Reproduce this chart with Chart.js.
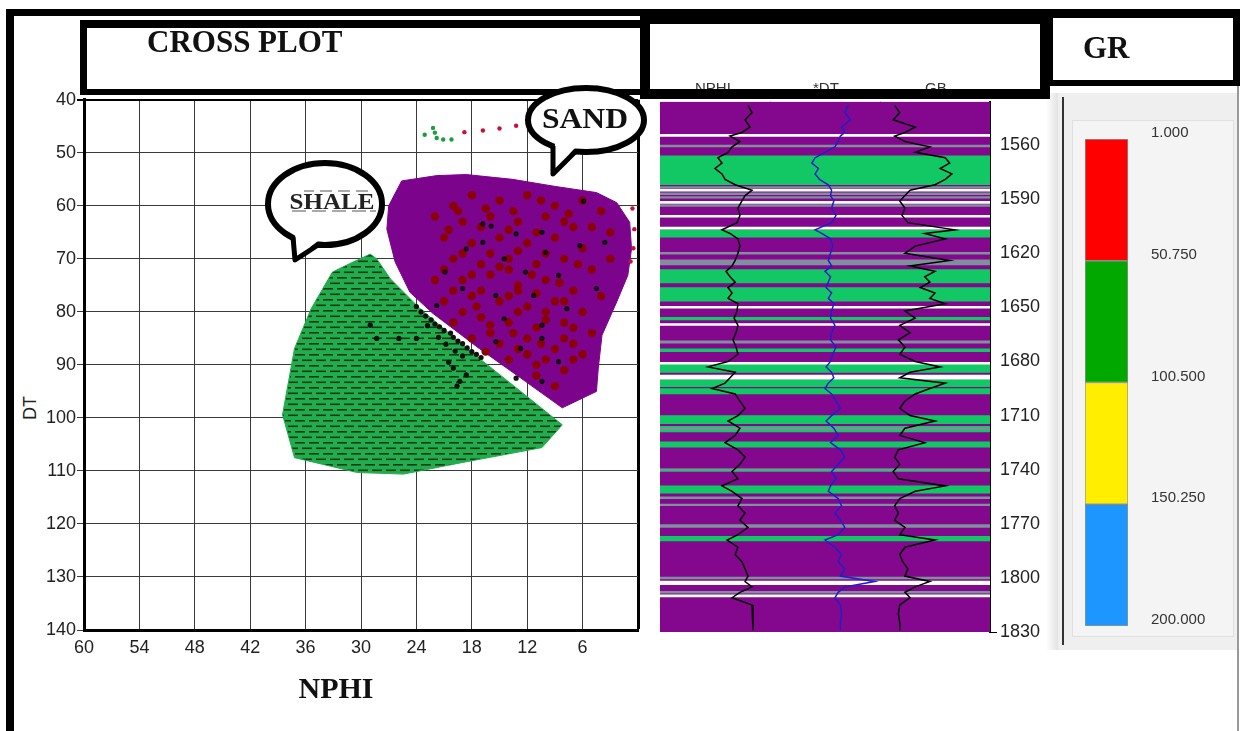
<!DOCTYPE html>
<html>
<head>
<meta charset="utf-8">
<title>Cross plot</title>
<script src="https://cdn.jsdelivr.net/npm/chart.js@4.4.0/dist/chart.umd.min.js"></script>
<style>
  body { margin: 0; width: 1242px; height: 731px; background: #fff; position: relative; overflow: hidden; font-family: "Liberation Sans", Arial, sans-serif; }
  canvas { position: absolute; z-index: 1; }
  .line { position: absolute; background: #000; z-index: 3; }
  .box { position: absolute; box-sizing: border-box; border: solid #000; z-index: 3; }
  .serif { position: absolute; font-family: "Liberation Serif", "Times New Roman", serif; font-weight: bold; color: #111; white-space: nowrap; z-index: 3; }
  .hdr { position: absolute; font-size: 15px; line-height: 15px; color: #333; z-index: 2; }
  #notes { position: absolute; left: 0; top: 0; z-index: 5; }
</style>
</head>
<body>

<div class="line" style="left:6px;top:9px;width:1234px;height:7px"></div>
<div class="line" style="left:6px;top:9px;width:8px;height:722px"></div>
<div class="line" style="left:1237px;top:84px;width:2px;height:647px;background:#9a9a9a"></div>

<div class="box" style="left:80px;top:20px;width:568px;height:75px;border-width:8px 7px 6px 7px"></div>
<div class="serif" style="left:147px;top:26px;font-size:31px;line-height:31px">CROSS PLOT</div>

<div class="box" style="left:640px;top:12px;width:410px;height:87px;border-width:12px 10px 10px 10px"></div>
<div class="hdr" style="left:695px;top:80px">NPHI</div>
<div class="hdr" style="left:813px;top:80px">*DT</div>
<div class="hdr" style="left:925px;top:80px">GB</div>

<div class="box" style="left:1046px;top:10px;width:194px;height:76px;border-width:8px 7px 6px 7px"></div>
<div class="serif" style="left:1083px;top:32px;font-size:31px;line-height:31px">GR</div>

<!-- right legend panel -->
<div style="position:absolute;left:1046px;top:93px;width:12px;height:557px;background:linear-gradient(to right,#fff,#e2e2e2)"></div>
<div style="position:absolute;left:1058px;top:93px;width:180px;height:557px;background:#efefef"></div>
<div style="position:absolute;left:1062px;top:97px;width:2px;height:548px;background:#333"></div>
<div style="position:absolute;left:1072px;top:120px;width:160px;height:515px;background:#f4f4f4;border:1px solid #e0e0e0"></div>

<div class="serif" style="left:236px;top:673px;width:200px;text-align:center;font-size:30px;line-height:30px">NPHI</div>
<div style="position:absolute;left:10px;top:398px;width:40px;height:20px;line-height:20px;text-align:center;font-size:18px;color:#222;transform:rotate(-90deg)">DT</div>

<canvas id="cross" width="640" height="640" style="left:14px;top:88px"></canvas>
<canvas id="track" width="400" height="567" style="left:650px;top:88px"></canvas>
<canvas id="grbar" width="160" height="551" style="left:1075px;top:107px;z-index:2"></canvas>

<svg id="notes" width="1242" height="731">
  <ellipse cx="325" cy="204" rx="57" ry="41" fill="#fff" stroke="#000" stroke-width="6"/>
  <path d="M295 233 L296 258 L318 241 Z" fill="#fff"/>
  <path d="M293 237 L295 260 L318 245" fill="none" stroke="#000" stroke-width="5" stroke-linejoin="round"/>
  <text x="332" y="209" text-anchor="middle" font-family="Liberation Serif" font-weight="bold" font-size="23" fill="#222" textLength="85" lengthAdjust="spacingAndGlyphs">SHALE</text>
  <path d="M304 191 H314 M320 191 H332 M338 191 H350 M356 191 H368" stroke="#555" stroke-width="1.2"/>
  <path d="M292 211 H306 M312 211 H326 M332 211 H346 M352 211 H366 M370 211 H376" stroke="#555" stroke-width="1.1"/>
  <ellipse cx="586" cy="120" rx="58" ry="32" fill="#fff" stroke="#000" stroke-width="6"/>
  <path d="M555 143 L554 171 L575 148 Z" fill="#fff"/>
  <path d="M553 146 L553 174 L576 151" fill="none" stroke="#000" stroke-width="5" stroke-linejoin="round"/>
  <text x="585" y="128" text-anchor="middle" font-family="Liberation Serif" font-weight="bold" font-size="30" fill="#111" textLength="86" lengthAdjust="spacingAndGlyphs">SAND</text>
</svg>

<script>
// ---- cross plot (NPHI vs DT) ----
const nphiTicks = [60, 54, 48, 42, 36, 30, 24, 18, 12, 6, 0];
const dtTicks = [40, 50, 60, 70, 80, 90, 100, 110, 120, 130, 140];

// zone outlines [NPHI, DT]
const sandZone = [[25.6,55.3],[21.8,54.3],[18.6,54.1],[13.6,55],[9.1,56.3],[4.5,57.5],[2.3,59.4],[0.9,63.1],[0.7,68.1],[1.1,73.1],[2.3,78.1],[3.9,84.4],[4.3,90.6],[4.5,95],[8.2,98.1],[12.2,93.1],[17.2,86.9],[22.2,80.3],[24.7,76.3],[26.3,70.6],[27.2,64.4],[27,60]];
const shaleZone = [[29,69.1],[31.7,71.3],[33.1,72.5],[35.4,79.4],[37.2,86.9],[38.5,99.4],[37.2,107.5],[30.4,110.3],[25.4,110.6],[19,108.4],[10.4,105.6],[8.2,101.3],[12.7,95],[18.1,87.5],[23.6,79.4],[26.8,73.8],[28.3,70]];

const sandPts = [[20,60],[18,58],[15,59],[12,58],[9,60],[6,59],[4,61],[22,62],[19,63],[16,62],[13,63],[10,62],[7,64],[3,65],
  [21,66],[18,67],[15,66],[12,67],[9,66],[6,68],[3,70],[20,70],[17,71],[14,70],[11,71],[8,70],[5,72],[22,74],[19,74],[16,73],
  [13,75],[10,74],[7,76],[4,77],[21,78],[18,77],[15,78],[12,79],[9,78],[6,80],[20,82],[17,81],[14,82],[11,83],[8,82],[5,84],
  [18,85],[15,86],[12,85],[9,87],[6,88],[14,89],[11,90],[8,91],[13,76],[16,69],[10,80],[14,72],[17,64],[11,65],[19,80],[16,84],[12,88],[7,86],
  [19.5,61],[16.5,60.5],[13.5,61],[10.5,59],[7.5,61.5],[5,64],[20.5,64.5],[14,64.5],[8,63],[19,69],[13,68.5],[10,69],[6.5,71],
  [21,72],[18,73],[15,71.5],[11.5,73],[8.5,74.5],[17,76],[14,77],[11,76.5],[8,78],[20,76],[17.5,79],[13,80],[10,81.5],[7,83],
  [16,82.5],[13.5,84],[10.5,86],[8,85],[16.5,87.5],[13,87],[10,89],[7,89],[11,92],[9,94]];
const blackPts = [[16.8,63.4],[15.9,63.8],[13.2,65.3],[10.4,65],[5.9,59.1],[3.6,66.9],[18.6,68.1],[14.5,70],[12.2,72.5],[8.6,73.1],
  [20.9,72.5],[19,75.6],[15.4,76.9],[11.3,76.9],[7.7,79.4],[14.5,81.3],[10.4,82.5],[15.4,85.6],[12.7,86.9],[10.4,85],[8.6,89.4],
  [10.4,93.1],[21.8,78.8],[16.8,66.9],[6.3,67.5],[10,68.8],[4.5,75.6],
  [24,79],[23.5,80],[23,80.8],[22.4,81.5],[22,82.3],[21.5,82.8],[21,83.5],[20.3,84],[20,84.8],[19.5,85.5],[19,86],[18.5,86.8],
  [18,87.5],[17.5,88],[17,88.6],[21.6,84.8],[20.8,86.1],[19.8,87.4],[19,88.3],[22.8,82.6],[24,85],[25.9,85],[28.3,85],[29,82.5],
  [20,90.6],[19.3,93.1],[18.6,91.9],[13.2,92.5],[20.5,89.5],[19.6,94]];
const greenTopPts = [[23.1,46.6],[22.2,45.3],[22,46.2],[21.8,47.2],[21.1,47.5],[20.2,47.5]];
const redTopPts = [[18.8,46.1],[16.8,45.8],[15,45.4],[13.2,44.9],[0.6,60.5],[0.4,64.4],[0.5,68],[0.8,70.5]];

// ---- log tracks ----
const depthTicks = [1560, 1590, 1620, 1650, 1680, 1710, 1740, 1770, 1800, 1830];
const depthTop = 1536, depthBottom = 1830;
const curveDepth = [1538,1542,1546,1550,1553,1555,1558,1561,1564,1567,1570,1573,1576,1579,1582,1585,1588,1591,1595,1599,
  1603,1607,1609,1612,1616,1620,1624,1627,1630,1633,1636,1639,1642,1645,1648,1652,1656,1660,1664,1668,
  1672,1676,1680,1683,1686,1689,1692,1695,1698,1702,1706,1710,1713,1717,1721,1725,1729,1733,1737,1741,
  1745,1749,1752,1756,1760,1764,1768,1772,1776,1779,1783,1787,1791,1795,1799,1802,1805,1808,1811,1815,1820,1825,1829];
const nphiLog = [12,9.8,13.6,10.9,15.3,21.8,16.4,20.7,22.9,28.4,26.2,30,26.2,24.5,19,9.8,13.6,15.3,17.5,16.4,
  18,26.2,21.8,17.5,16.4,17.5,19,20.7,24,21.8,19,22.9,20.7,22.9,17.5,18,19.6,17.5,18.5,20.2,
  18.5,17.5,22.9,33.8,19,21.8,24.5,31.6,19,16.4,13.6,17.5,22.9,16.4,19,24.5,17.5,13.6,16.4,20.7,
  17.5,26.2,20.7,15.3,17.5,13.6,16.4,12,17.5,23.4,17.5,19,15.3,13.6,12,13.6,9.8,16.4,20.7,9.8,9.3,9.3,9.3];
const dtLog = [69,72,67,75,72,76,78,81,90,99,102,96,99,95,87,84,85,82,84,80,
  84,99,93,85,83,85,87,84,90,85,87,89,84,87,82,84,85,81,84,85,
  80,83,85,89,84,82,87,90,84,80,76,84,89,82,78,85,76,72,78,84,
  80,85,87,78,75,81,76,72,78,90,81,75,78,72,76,45,72,78,81,76,75,76,76];
const grLog = [20,27,18,48,34,20,34,68,48,89,95,82,98,89,75,41,34,27,34,30,
  38,102,61,89,48,34,95,41,75,61,68,55,75,68,89,34,48,27,41,25,
  34,27,48,82,41,27,89,68,48,34,27,41,75,34,27,61,25,20,27,18,
  25,89,48,27,20,25,20,34,27,75,34,27,31,38,34,68,48,34,41,27,25,27,27];

const greenBands = [[1566,1582],[1607,1611],[1629,1636.5],[1639,1646.5],[1655.5,1657],[1673,1674.5],[1681.5,1686],[1690,1694],
  [1695,1698],[1710,1714.5],[1716,1719],[1724.5,1727.5],[1739.5,1741],[1749,1753],[1777,1779.5]];
const whiteLines = [[1554,1555.2],[1584.5,1585.6],[1591.2,1592.3],[1599,1600],[1605.5,1606.6],[1649.4,1650.4],[1659,1660],
  [1680.5,1681.5],[1687.6,1689.8],[1801.8,1803.8],[1809.4,1810.6]];
const grayLines = [[1560,1561],[1583,1584],[1586.5,1587.5],[1588.5,1589.5],[1593,1594],[1619.5,1620.5],[1623.6,1626.4],
  [1668.5,1669.8],[1716.8,1717.8],[1739.6,1740.4],[1755,1756],[1759,1760],[1770.5,1772],[1799.5,1800.5],[1807.5,1808.5]];

// ---- GR colour legend ----
const grLevels = [1, 50.75, 100.5, 150.25, 200];
const grColors = ["#ff0000", "#00a800", "#ffee00", "#1e96ff"];

const sansFont = { family: "Liberation Sans", size: 18 };

function toPts(arr) {
  return arr.map(([x, y]) => ({ x, y }));
}

function ring(arr) {
  const pts = toPts(arr);
  pts.push(pts[0]);
  return pts;
}

function hatchPattern() {
  const c = document.createElement("canvas");
  c.width = 14; c.height = 11;
  const g = c.getContext("2d");
  g.fillStyle = "#21ad4b";
  g.fillRect(0, 0, 14, 11);
  g.fillStyle = "#143a1c";
  g.fillRect(1, 2, 10, 1.6);
  g.fillRect(8, 7.5, 10, 1.6);
  g.fillRect(-6, 7.5, 10, 1.6);
  return g.createPattern(c, "repeat");
}

function dots(arr, color, r) {
  return { type: "scatter", data: toPts(arr), backgroundColor: color, borderWidth: 0, pointRadius: r };
}

function zone(arr, fillStyle, edge) {
  return { type: "line", data: ring(arr), fill: "shape", backgroundColor: fillStyle, borderColor: edge,
    borderWidth: 1, pointRadius: 0, tension: 0 };
}

function drawCrossPlot() {
  new Chart(document.getElementById("cross"), {
    type: "scatter",
    data: {
      datasets: [
        dots(blackPts, "#111111", 2.6),
        dots(sandPts, "#8a0006", 4.2),
        dots(greenTopPts, "#1d9e3c", 2.2),
        dots(redTopPts, "#c8103c", 2.2),
        zone(sandZone, "#7c038c", "#7c038c"),
        zone(shaleZone, hatchPattern(), "#21ad4b")
      ]
    },
    options: {
      responsive: false,
      animation: false,
      layout: { padding: { top: 10, right: 16, left: 0, bottom: 0 } },
      plugins: { legend: { display: false }, tooltip: { enabled: false } },
      scales: {
        x: {
          type: "linear", reverse: true, min: 0, max: 60,
          afterBuildTicks: a => { a.ticks = nphiTicks.map(v => ({ value: v })); },
          afterFit: a => { a.height = 98; },
          ticks: { color: "#222", font: sansFont, padding: 7, maxRotation: 0, autoSkip: false,
            callback: v => (v === 0 ? "" : v) },
          grid: {
            color: c => (c.tick && c.tick.value === 0 ? "#000" : "#3a3a3a"),
            lineWidth: c => (c.tick && c.tick.value === 0 ? 3 : 1),
            drawTicks: false
          },
          border: { color: "#000", width: 3 }
        },
        y: {
          type: "linear", reverse: true, min: 40, max: 140,
          afterBuildTicks: a => { a.ticks = dtTicks.map(v => ({ value: v })); },
          afterFit: a => { a.width = 70; },
          ticks: { color: "#222", font: sansFont, padding: 1, autoSkip: false },
          grid: {
            color: c => (c.tick && c.tick.value === 40 ? "#000" : "#3a3a3a"),
            lineWidth: c => (c.tick && c.tick.value === 40 ? 2 : 1),
            tickLength: 7
          },
          border: { color: "#000", width: 3 }
        }
      }
    }
  });
}

function curve(values, toTrack, color) {
  return {
    type: "line", xAxisID: "x", yAxisID: "y",
    data: curveDepth.map((d, i) => ({ x: toTrack(values[i]), y: d })),
    borderColor: color, borderWidth: 1.5, pointRadius: 0, fill: false, tension: 0
  };
}

function band(ranges, color) {
  return {
    type: "bar", xAxisID: "xb", yAxisID: "y",
    data: ranges.map(r => ({ x: "log", y: r })),
    backgroundColor: color, borderWidth: 0, barPercentage: 1, categoryPercentage: 1, grouped: false
  };
}

function drawTracks() {
  new Chart(document.getElementById("track"), {
    type: "bar",
    data: {
      datasets: [
        curve(nphiLog, v => (60 - v) / 60, "#000000"),      // NPHI 60 -> 0
        curve(dtLog, v => 1 + (140 - v) / 100, "#1f1fc8"),   // DT 140 -> 40
        curve(grLog, v => 2 + v / 150, "#000000"),           // GR 0 -> 150
        band(whiteLines, "#ffffff"),
        band(grayLines, "#7f8f9b"),
        band(greenBands, "#12c865"),
        band([[depthTop, depthBottom]], "#84088d")
      ]
    },
    options: {
      responsive: false,
      animation: false,
      layout: { padding: { left: 10, top: 4, bottom: 23, right: 0 } },
      plugins: { legend: { display: false }, tooltip: { enabled: false } },
      scales: {
        x: {
          type: "linear", min: 0, max: 3, offset: false, z: 1,
          afterBuildTicks: a => { a.ticks = [{ value: 1 }, { value: 2 }]; },
          afterFit: a => { a.height = 0; },
          ticks: { display: false },
          grid: { color: "#111", lineWidth: 1, drawTicks: false, offset: false },
          border: { display: false }
        },
        xb: { type: "category", labels: ["log"], display: false, offset: true },
        y: {
          type: "linear", position: "right", reverse: true, min: depthTop, max: depthBottom,
          afterBuildTicks: a => { a.ticks = depthTicks.map(v => ({ value: v })); },
          afterFit: a => { a.width = 60; },
          ticks: { color: "#222", font: sansFont, padding: 3, callback: v => String(v) },
          grid: {
            drawOnChartArea: false, tickLength: 7,
            color: c => (c.tick && c.tick.value === depthBottom ? "#000" : "rgba(0,0,0,0)")
          },
          border: { color: "#000", width: 2 }
        }
      }
    }
  });
}

function drawLegendBar() {
  new Chart(document.getElementById("grbar"), {
    type: "bar",
    data: {
      labels: ["GR"],
      datasets: grColors.map((c, i) => ({
        data: [[grLevels[i], grLevels[i + 1]]],
        backgroundColor: c, borderColor: "rgba(70,70,70,0.55)", borderWidth: 1, borderSkipped: false,
        barPercentage: 1, categoryPercentage: 1, grouped: false
      }))
    },
    options: {
      responsive: false,
      animation: false,
      layout: { padding: { left: 10, top: 22, bottom: 19, right: 0 } },
      plugins: { legend: { display: false }, tooltip: { enabled: false } },
      scales: {
        x: { display: false },
        y: {
          position: "right", reverse: true, min: grLevels[0], max: grLevels[grLevels.length - 1],
          afterBuildTicks: a => { a.ticks = grLevels.map(v => ({ value: v })); },
          afterFit: a => { a.width = 107; },
          ticks: { color: "#333", font: { family: "Liberation Sans", size: 15 }, padding: 23, labelOffset: -6,
            callback: v => v.toFixed(3) },
          grid: { display: false, drawTicks: false },
          border: { display: false }
        }
      }
    }
  });
}

document.addEventListener("DOMContentLoaded", () => {
  drawCrossPlot();
  drawTracks();
  drawLegendBar();
});
</script>
</body>
</html>
